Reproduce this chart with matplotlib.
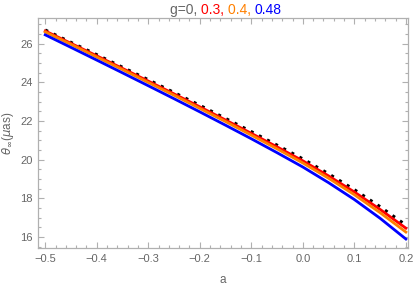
"""Shadow angular size vs spin parameter for several g values."""

import matplotlib
matplotlib.use("Agg")
import matplotlib.pyplot as plt
from matplotlib.ticker import MultipleLocator

# data
a_vals = [-0.5, -0.45, -0.4, -0.35, -0.3, -0.25, -0.2, -0.15, -0.1,
          -0.05, 0.0, 0.05, 0.1, 0.15, 0.2]
theta_g0 = [26.70, 26.06, 25.425, 24.775, 24.13, 23.47, 22.81, 22.13, 21.45,
            20.75, 20.04, 19.27, 18.45, 17.57, 16.62]
theta_g03 = [26.65, 26.01, 25.365, 24.715, 24.06, 23.40, 22.73, 22.05, 21.36,
             20.66, 19.94, 19.16, 18.33, 17.43, 16.46]
theta_g04 = [26.60, 25.96, 25.305, 24.655, 23.99, 23.33, 22.65, 21.97, 21.27,
             20.56, 19.83, 19.04, 18.19, 17.26, 16.26]
theta_g048 = [26.45, 25.80, 25.145, 24.485, 23.82, 23.15, 22.47, 21.78, 21.08,
              20.36, 19.62, 18.81, 17.94, 16.97, 15.90]

GRAY = "#666666"
FRAME = "#b0b0b0"

plt.rcParams["font.family"] = ["Liberation Sans", "DejaVu Sans"]

fig = plt.figure(figsize=(4.15, 2.89), dpi=100)
ax = fig.add_axes([0.0916, 0.1408, 0.983 - 0.0916, 0.9377 - 0.1408])

ax.plot(a_vals, theta_g0, color="black", lw=2.2, linestyle=(0, (1.0, 2.0)), zorder=2)
ax.plot(a_vals, theta_g03, color="#ff0000", lw=2.0, zorder=3)
ax.plot(a_vals, theta_g04, color="#ff8000", lw=2.0, zorder=3)
ax.plot(a_vals, theta_g048, color="#0000ff", lw=2.0, zorder=3)

ax.set_xlim(-0.514, 0.204)
ax.set_ylim(15.42, 27.32)

ax.xaxis.set_minor_locator(MultipleLocator(0.02))
ax.yaxis.set_major_locator(MultipleLocator(2))
ax.yaxis.set_minor_locator(MultipleLocator(0.5))
ax.set_xticks([-0.5, -0.4, -0.3, -0.2, -0.1, 0.0, 0.1, 0.2])
ax.set_xticklabels(["\u22120.5", "\u22120.4", "\u22120.3", "\u22120.2", "\u22120.1",
                    "0.0", "0.1", "0.2"])

ax.tick_params(which="both", direction="in", top=True, right=True,
               color=FRAME, labelcolor=GRAY, labelsize=8, width=0.8)
ax.tick_params(which="major", length=4, pad=4)
ax.tick_params(which="minor", length=2.2)
for sp in ax.spines.values():
    sp.set_color(FRAME)
    sp.set_linewidth(0.9)

ax.set_xlabel("a", color=GRAY, fontsize=8.5, labelpad=7)
ax.set_ylabel(r"$\theta_{\infty}$($\mu$as)", color=GRAY, fontsize=8.5, va="center")
ax.yaxis.set_label_coords(-0.08, 0.5)

# coloured title pieces
parts = [("g=0, ", GRAY), ("0.3, ", "#ff0000"), ("0.4, ", "#ff8000"), ("0.48", "#0000ff")]
fig.canvas.draw()
renderer = fig.canvas.get_renderer()
widths = []
texts = []
for s, c in parts:
    t = fig.text(0, 0, s, color=c, fontsize=10, va="center", ha="left")
    texts.append(t)
    widths.append(t.get_window_extent(renderer).width)
total = sum(widths)
x0 = 226 - total / 2
for t, w in zip(texts, widths):
    t.set_position((x0 / 415, 1 - 10 / 289))
    x0 += w

fig.savefig("out.png", dpi=100)
plt.close(fig)
